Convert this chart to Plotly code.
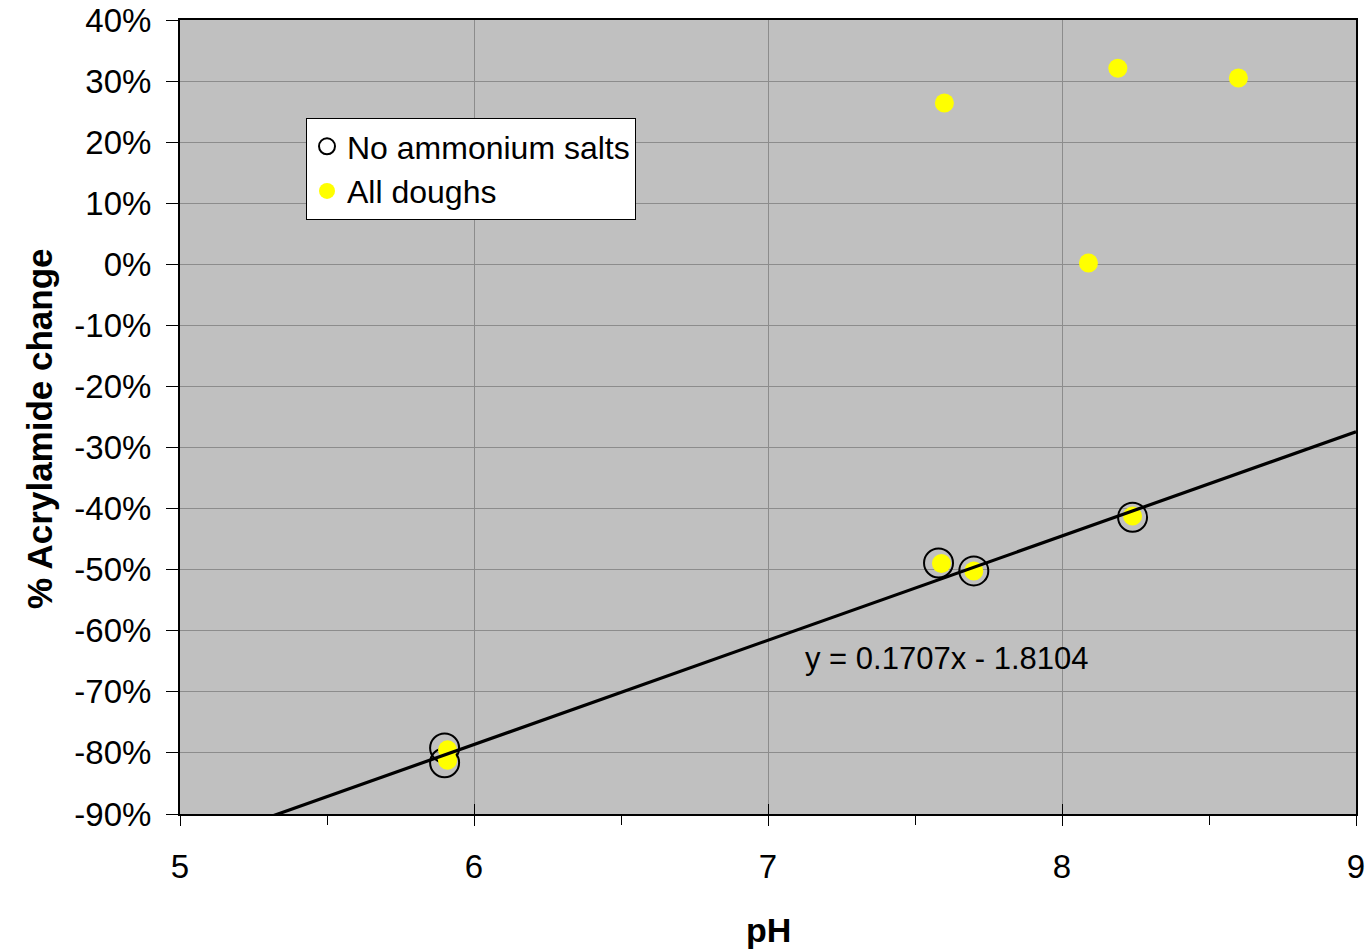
import plotly.graph_objects as go

# Data (pH, fractional acrylamide change)
no_ammonium_ph = [5.90, 5.90, 7.58, 7.70, 8.24]
no_ammonium_chg = [-0.792, -0.816, -0.489, -0.502, -0.414]

all_doughs_ph = [5.91, 5.91, 7.59, 7.70, 8.24, 7.60, 8.19, 8.60, 8.09]
all_doughs_chg = [-0.795, -0.812, -0.490, -0.502, -0.412, 0.264, 0.321, 0.305, 0.002]

trend_slope = 0.1707
trend_intercept = -1.8104

x_ticks = [5, 6, 7, 8, 9]
y_ticks = [0.4, 0.3, 0.2, 0.1, 0.0, -0.1, -0.2, -0.3, -0.4, -0.5, -0.6, -0.7, -0.8, -0.9]
y_tick_labels = ["40%", "30%", "20%", "10%", "0%", "-10%", "-20%", "-30%", "-40%",
                 "-50%", "-60%", "-70%", "-80%", "-90%"]

FONT = "Liberation Sans, Arial, sans-serif"

trend_x = [x_ticks[0], x_ticks[-1]]
trend_y = [trend_slope * v + trend_intercept for v in trend_x]

fig = go.Figure()
fig.add_trace(go.Scatter(
    x=no_ammonium_ph, y=no_ammonium_chg, mode="markers", name="No ammonium salts",
    marker=dict(symbol="circle-open", size=29, color="black", line=dict(width=2)),
))
fig.add_trace(go.Scatter(
    x=all_doughs_ph, y=all_doughs_chg, mode="markers", name="All doughs",
    marker=dict(symbol="circle", size=19, color="#FFFF00", line=dict(width=0)),
))
fig.add_trace(go.Scatter(
    x=trend_x, y=trend_y, mode="lines", showlegend=False, xaxis="x2",
    line=dict(color="black", width=3.2),
))

fig.add_annotation(
    x=7.12, y=-0.645, xref="x", yref="y", xanchor="left", yanchor="middle",
    text="y = 0.1707x - 1.8104", showarrow=False,
    font=dict(family=FONT, size=31, color="black"),
)
fig.add_annotation(
    x=0.5, y=-0.146, xref="paper", yref="paper", xanchor="center", yanchor="middle",
    text="<b>pH</b>", showarrow=False, font=dict(family=FONT, size=34, color="black"),
)
fig.add_annotation(
    x=-0.119, y=0.485, xref="paper", yref="paper", xanchor="center", yanchor="middle",
    text="<b>% Acrylamide change</b>", showarrow=False, textangle=-90,
    font=dict(family=FONT, size=35, color="black"),
)

fig.update_layout(
    width=1372, height=950,
    margin=dict(l=180, r=16, t=20, b=136),
    paper_bgcolor="white", plot_bgcolor="#C0C0C0",
    font=dict(family=FONT, size=32, color="black"),
    showlegend=True,
    legend=dict(
        x=(306 - 180) / 1176, y=(814 - 118) / 794, xanchor="left", yanchor="top",
        bgcolor="white", bordercolor="black", borderwidth=1,
        font=dict(family=FONT, size=32, color="black"),
        tracegroupgap=0,
    ),
    xaxis=dict(
        range=[5, 9], tickvals=x_ticks, ticktext=[str(v) for v in x_ticks],
        showgrid=True, gridcolor="#8C8C8C", gridwidth=1,
        showline=True, linecolor="black", linewidth=2, mirror=True,
        ticks="outside", ticklen=10, tickcolor="black", tickwidth=1,
        minor=dict(dtick=0.5, ticks="outside", ticklen=9, tickcolor="black", showgrid=False),
        tickfont=dict(family=FONT, size=33), zeroline=False, automargin=False,
        ticklabelstandoff=12,
    ),
    xaxis2=dict(
        range=[5, 9], overlaying="x", side="bottom", tickvals=x_ticks,
        showticklabels=False, showgrid=False, showline=False, zeroline=False,
        ticks="inside", ticklen=10, tickcolor="black", tickwidth=1, automargin=False,
    ),
    yaxis=dict(
        range=[-0.9, 0.4], tickvals=y_ticks, ticktext=y_tick_labels,
        showgrid=True, gridcolor="#8C8C8C", gridwidth=1,
        showline=True, linecolor="black", linewidth=2, mirror=True,
        ticks="outside", ticklen=12, tickcolor="black", tickwidth=1,
        tickfont=dict(family=FONT, size=33), zeroline=False, automargin=False,
        ticklabelstandoff=8,
    ),
)

fig.write_html("out.html")
